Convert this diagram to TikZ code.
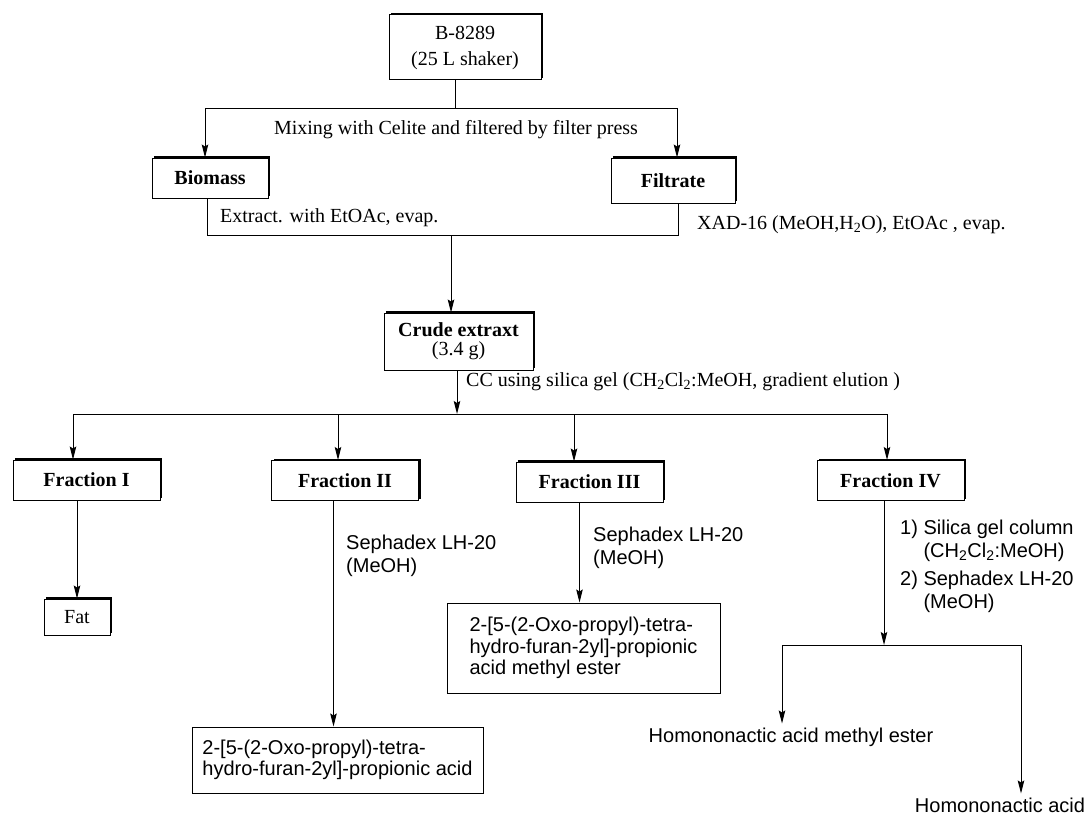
\documentclass[tikz,border=0pt]{standalone}
\usepackage{fontspec}
\setmainfont{Liberation Serif}
\setsansfont{Liberation Sans}
\usepackage{tikz}
\usetikzlibrary{positioning,arrows.meta,shadows}

\begin{document}
\begin{tikzpicture}[
  x=1pt,y=-1pt,
  every node/.style={font=\fontsize{20}{23}\selectfont,align=center,inner sep=0pt},
  box/.style={draw,fill=white,line width=1pt},
  sbox/.style={box,drop shadow={shadow xshift=2pt,shadow yshift=2pt,fill=black,opacity=1}},
  frac/.style={sbox,minimum width=147pt,minimum height=40pt,
    font=\fontsize{20}{23}\selectfont\bfseries},
  prod/.style={box,align=left,font=\sffamily\fontsize{20}{21.5}\selectfont},
  note/.style={anchor=west},
  snote/.style={anchor=west,align=left,font=\sffamily\fontsize{20}{23}\selectfont},
  final/.style={inner ysep=4pt,font=\sffamily\fontsize{20}{23}\selectfont},
  link/.style={line width=1pt},
  flow/.style={link,-{Stealth[length=13pt,width=6.5pt,inset=2pt]}}
]
  \useasboundingbox (0,0) rectangle (1087,816);

  % 培養と濾過
  \node[sbox,minimum width=152pt,minimum height=65pt] (strain) at (465,47.5)
    {B-8289\\[3pt](25 L shaker)};
  \node (mixnote) at (456,130)
    {Mixing with Celite and filtered by filter press};
  \node[sbox,minimum width=116pt,minimum height=40pt,
    font=\fontsize{20}{23}\selectfont\bfseries] (biomass) at (210,178) {Biomass};
  \node[sbox,minimum width=124pt,minimum height=45pt,
    font=\fontsize{20}{23}\selectfont\bfseries] (filtrate) at (673,180.5) {Filtrate};

  \coordinate (t0) at (455,108);
  \coordinate (tL) at (205,108);
  \coordinate (tR) at (677,108);
  \draw[link] (strain.south -| t0) -- (t0);
  \draw[link] (tL) -- (tR);
  \draw[flow] (tL) -- (tL |- biomass.north);
  \draw[flow] (tR) -- (tR |- filtrate.north);

  % 抽出
  \node[note] (extnote) at (220,218) {Extract. with EtOAc, evap.};
  \node[note] (xadnote) at (697,225)
    {XAD-16 (MeOH,H\textsubscript{2}O), EtOAc , evap.};
  \node[sbox,minimum width=149pt,minimum height=57pt] (crude) at (458.5,341.5)
    {\textbf{Crude extraxt}\\[-4pt](3.4 g)};

  \coordinate (jL) at (207,235);
  \coordinate (jR) at (678,235);
  \coordinate (jM) at (451,235);
  \draw[link] (biomass.south -| jL) -- (jL) -- (jR) -- (filtrate.south -| jR);
  \draw[flow] (jM) -- (jM |- crude.north);

  % シリカゲルカラム
  \node[note] (ccnote) at (466,382)
    {CC using silica gel (CH\textsubscript{2}Cl\textsubscript{2}:MeOH, gradient elution )};
  \node[frac] (fracI) at (86.5,480) {Fraction I};
  \node[frac] (fracII) at (345,480.5) {Fraction II};
  \node[frac] (fracIII) at (589.5,482) {Fraction III};
  \node[frac] (fracIV) at (890.5,480.5) {Fraction IV};

  \coordinate (c0) at (457,414);
  \draw[flow] (crude.south -| c0) -- (c0);
  \draw[link] (73,414) -- (887,414);
  \foreach \f/\x in {fracI/73,fracII/338,fracIII/574,fracIV/887}{
    \coordinate (d\f) at (\x,414);
    \draw[flow] (d\f) -- (d\f |- \f.north);
  }

  % 各画分の精製
  \node[sbox,minimum width=66pt,minimum height=36pt] (fat) at (77,617) {Fat};
  \draw[flow] (fracI.south -| fat.north) -- (fat.north);

  \node[snote] (sephII) at (346,556) {Sephadex LH-20\\(MeOH)};
  \node[prod,minimum width=291pt,minimum height=66pt] (acid) at (337.5,760)
    {2-[5-(2-Oxo-propyl)-tetra-\\hydro-furan-2yl]-propionic acid};
  \draw[flow] ([xshift=-4pt]acid.north |- fracII.south) -- ([xshift=-4pt]acid.north);

  \node[snote] (sephIII) at (593,548) {Sephadex LH-20\\(MeOH)};
  \node[prod,minimum width=273pt,minimum height=90pt] (ester) at (583.5,648)
    {2-[5-(2-Oxo-propyl)-tetra-\\hydro-furan-2yl]-propionic\\acid methyl ester};
  \draw[flow] ([xshift=-4pt]ester.north |- fracIII.south) -- ([xshift=-4pt]ester.north);

  \node[snote] (purIV) at (900,566)
    {1) Silica gel column\\\phantom{1)~}(CH\textsubscript{2}Cl\textsubscript{2}:MeOH)\\[5pt]
     2) Sephadex LH-20\\\phantom{2)~}(MeOH)};
  \node[final] (mester) at (791,737) {Homononactic acid methyl ester};
  \node[final] (hacid) at (1000,805) {Homononactic acid};

  \coordinate (split) at (884,645);
  \coordinate (sL) at (782,645);
  \coordinate (sR) at (1021,645);
  \draw[flow] (fracIV.south -| split) -- (split);
  \draw[link] (sL) -- (sR);
  \draw[flow] (sL) -- (sL |- mester.north);
  \draw[flow] (sR) -- (sR |- hacid.north);
\end{tikzpicture}
\end{document}
